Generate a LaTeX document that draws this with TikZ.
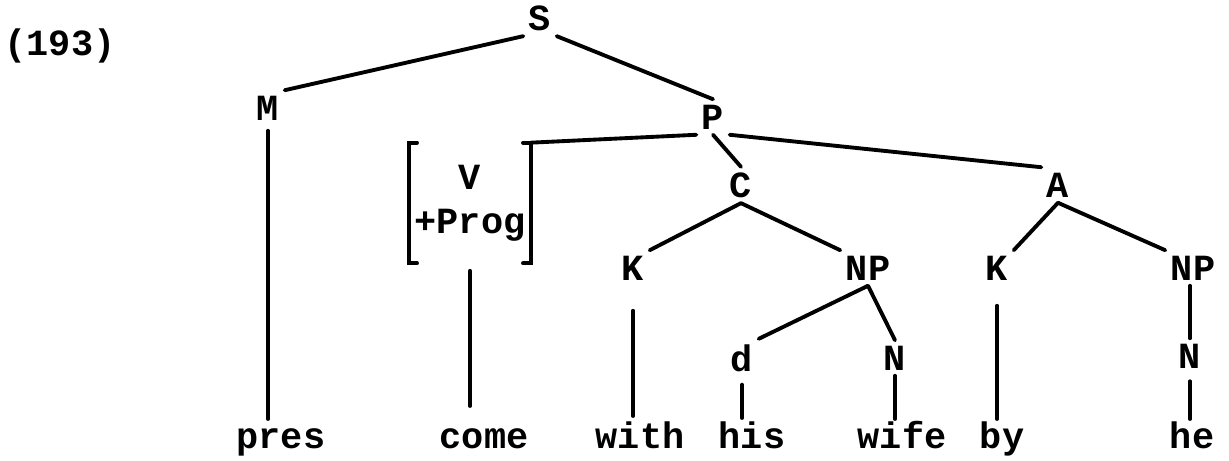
\documentclass[tikz,border=0pt]{standalone}
\usepackage{fontspec}
\newfontfamily\typew{Liberation Mono}
\usetikzlibrary{positioning}

\begin{document}
\begin{tikzpicture}[x=0.02cm, y=-0.02cm,
      lbl/.style={inner sep=3pt, font=\typew\bfseries\fontsize{21}{25}\selectfont},
      leaf/.style={lbl, anchor=base},
      branch/.style={line width=2.2pt, line cap=round}]
    \useasboundingbox (0,0) rectangle (1229,460);
    \node[lbl] (ex)  at (60,46)    {(193)};
    \node[lbl] (s)   at (540,18)   {S};
    \node[lbl] (m)   at (268,108)  {M};
    \node[lbl] (p)   at (713,117)  {P};
    \node[lbl, align=center, minimum width=2.4cm, minimum height=2.4cm] (vprog) at (470,203) {V\\+Prog};
    \node[lbl] (c)   at (741,185)  {C};
    \node[lbl] (a)   at (1058,185) {A};
    \node[lbl] (k1)  at (633,268)  {K};
    \node[lbl] (np1) at (868,268)  {NP};
    \node[lbl] (k2)  at (997,268)  {K};
    \node[lbl] (np2) at (1193,268) {NP};
    \node[lbl] (d)   at (742,358)  {d};
    \node[lbl] (n1)  at (895,358)  {N};
    \node[lbl] (n2)  at (1190,356) {N};
    % leaves
    \node[leaf] (pres) at (281,448)  {pres};
    \node[leaf] (come) at (484,448)  {come};
    \node[leaf] (with) at (640,448)  {with};
    \node[leaf] (his)  at (752,448)  {his};
    \node[leaf] (wife) at (902,448)  {wife};
    \node[leaf] (by)   at (1002,448) {by};
    \node[leaf] (he)   at (1192,448) {he};
    % brackets round V +Prog
    \draw[branch] ([xshift=0.16cm]vprog.north west) -- (vprog.north west) -- (vprog.south west) -- ++(8,0);
    \draw[branch] ([xshift=-0.16cm]vprog.north east) -- (vprog.north east) -- (vprog.south east) -- ++(-8,0);
    % tree
    \draw[branch] (s.south west) -- (m.north east);
    \draw[branch] (s.south east) -- (p.north);
    \draw[branch] (p.south west) -- (vprog.north east);
    \draw[branch] (p.south) -- (c.north);
    \draw[branch] (p.south east) -- (a.north west);
    \draw[branch] (c.south) -- (k1.north east);
    \draw[branch] (c.south) -- (np1.north west);
    \draw[branch] (np1.south) -- (d.north east);
    \draw[branch] (np1.south) -- (n1.north);
    \draw[branch] (a.south) -- (k2.north east);
    \draw[branch] (a.south) -- (np2.north west);
    \draw[branch] (np2.south -| n2) -- (n2.north);
    % lines down to the words
    \draw[branch] ([yshift=-0.1cm]m.south) -- ([yshift=0.58cm]m.south |- pres.base);
    \draw[branch] ([yshift=-0.15cm]vprog.south) -- ([yshift=0.84cm]vprog.south |- come.base);
    \draw[branch] ([yshift=-0.5cm]k1.south) -- ([yshift=0.64cm]k1.south |- with.base);
    \draw[branch] ([yshift=-0.15cm]d.south) -- ([yshift=0.6cm]d.south |- his.base);
    \draw[branch] (n1.south) -- ([yshift=0.58cm]n1.south |- wife.base);
    \draw[branch] ([yshift=-0.4cm]k2.south) -- ([yshift=0.58cm]k2.south |- by.base);
    \draw[branch] ([yshift=-0.15cm]n2.south) -- ([yshift=0.58cm]n2.south |- he.base);
  \end{tikzpicture}
\end{document}
